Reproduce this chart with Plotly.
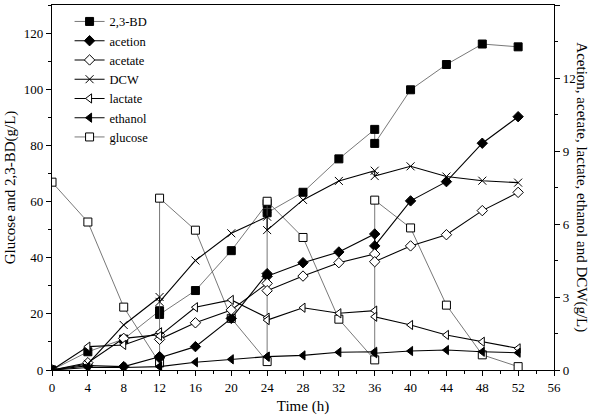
import plotly.graph_objects as go

time_h = [0, 4, 8, 12, 12, 16, 20, 24, 24, 28, 32, 36, 36, 40, 44, 48, 52]

bd = [0, 6.5, 11, 21.1, 19.8, 28.3, 42.5, 59.3, 56, 63.3, 75.2, 85.7, 80.7, 99.8, 108.8, 116.1, 115.1]
glucose = [66.9, 52.7, 22.4, 2.5, 61.2, 49.8, 18.4, 3.0, 60.1, 47.2, 18.1, 3.6, 60.5, 50.6, 23.1, 5.4, 1.2]

acetion = [0, 0.18, 0.14, 0.55, 0.5, 0.96, 2.12, 3.96, 3.85, 4.41, 4.85, 5.59, 5.1, 6.95, 7.74, 9.32, 10.41]
acetate = [0, 0.3, 1.3, 1.45, 1.26, 1.94, 2.47, 3.56, 3.26, 3.86, 4.41, 4.77, 4.45, 5.1, 5.56, 6.55, 7.3]
dcw = [0, 0.25, 1.85, 3.0, 2.8, 4.5, 5.62, 6.3, 5.75, 6.99, 7.77, 8.19, 7.97, 8.37, 7.95, 7.78, 7.7]
lactate = [0, 0.96, 1.03, 1.55, 1.4, 2.58, 2.88, 2.15, 2.05, 2.56, 2.33, 2.44, 2.19, 1.85, 1.44, 1.16, 0.89]
ethanol = [0, 0.1, 0.1, 0.14, 0.14, 0.32, 0.44, 0.55, 0.55, 0.6, 0.73, 0.75, 0.69, 0.78, 0.82, 0.75, 0.71]

x_ticks = list(range(0, 57, 4))
left_ticks = list(range(0, 121, 20))
right_ticks = [0, 3, 6, 9, 12, 15]

FONT = "Liberation Serif"

fig = go.Figure()

def add(name, y, symbol, fill, axis, lcolor, lwidth):
    fig.add_trace(go.Scatter(
        x=time_h, y=y, name=name, yaxis=axis, mode="lines+markers",
        line=dict(color=lcolor, width=lwidth),
        marker=dict(symbol=symbol, size=8, color=fill,
                    line=dict(color="black", width=1)),
    ))

add("2,3-BD", bd, "square", "black", "y", "#555555", 0.8)
add("acetion", acetion, "diamond", "black", "y2", "black", 1.1)
add("acetate", acetate, "diamond", "white", "y2", "black", 1.1)
add("DCW", dcw, "x-thin", "black", "y2", "black", 1.1)
add("lactate", lactate, "triangle-left", "white", "y2", "black", 1.1)
add("ethanol", ethanol, "triangle-left", "black", "y2", "black", 1.1)
add("glucose", glucose, "square", "white", "y", "#555555", 0.8)

axis_common = dict(
    showline=True, linecolor="black", linewidth=1.3, ticks="outside",
    ticklen=5, tickcolor="black", tickwidth=1, showgrid=False, zeroline=False,
    tickfont=dict(family=FONT, size=13, color="black"),
)

fig.update_layout(
    width=600, height=416,
    margin=dict(l=52, r=46, t=5, b=46),
    paper_bgcolor="white", plot_bgcolor="white",
    font=dict(family=FONT, color="black"),
    showlegend=True,
    legend=dict(x=0.035, y=0.995, xanchor="left", yanchor="top",
                bgcolor="rgba(0,0,0,0)", font=dict(family=FONT, size=12.5),
                itemwidth=30, tracegroupgap=0),
    xaxis=dict(range=[0, 56], tickvals=x_ticks, mirror=True,
               minor=dict(ticks="outside", ticklen=3, dtick=2, tickcolor="black"),
               title=dict(text="Time (h)", font=dict(family=FONT, size=15), standoff=6),
               **axis_common),
    yaxis=dict(range=[0, 130], tickvals=left_ticks,
               minor=dict(ticks="outside", ticklen=3, dtick=10, tickcolor="black"),
               title=dict(text="Glucose and 2,3-BD(g/L)", font=dict(family=FONT, size=15), standoff=4),
               **axis_common),
    yaxis2=dict(range=[0, 15], tickvals=right_ticks, overlaying="y", side="right",
                minor=dict(ticks="outside", ticklen=3, dtick=1.5, tickcolor="black"),
                **axis_common),
)

fig.add_annotation(
    text="Acetion, acetate, lactate, ethanol and DCW(g/L)",
    xref="paper", yref="paper", x=1.075, y=0.5, textangle=90,
    showarrow=False, font=dict(family=FONT, size=15, color="black"),
)

fig.write_html(
    "out.html",
    config={"displayModeBar": False},
    post_script="document.body.style.margin='0';document.body.style.overflow='hidden';",
)
